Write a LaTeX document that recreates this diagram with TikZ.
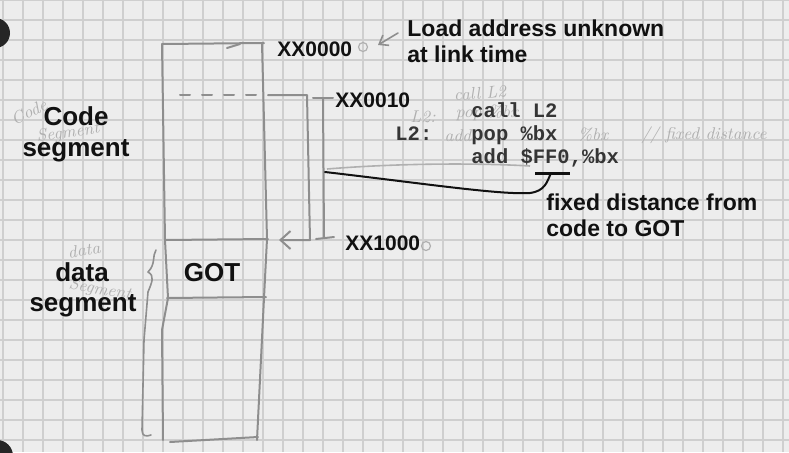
\documentclass[tikz,border=0pt]{standalone}
\usepackage{fontspec}
\newfontfamily\labelfont{Liberation Sans}
\newfontfamily\codefont{Liberation Mono}
\usetikzlibrary{positioning, calc, arrows.meta}
\definecolor{Paper}{HTML}{EDEDED}
\definecolor{GridLine}{HTML}{CFCFCF}
\definecolor{Pencil}{HTML}{8E8E8E}
\definecolor{Faint}{HTML}{B0B0B0}
\definecolor{Ink}{HTML}{111111}
\tikzset{
    plainlbl/.style={font=\labelfont\bfseries\fontsize{11.5}{13}\selectfont, text=Ink, inner sep=0pt, anchor=base west},
    seglbl/.style={font=\labelfont\bfseries\fontsize{13}{15}\selectfont, text=Ink, inner sep=0pt, anchor=base},
    addrlbl/.style={font=\labelfont\bfseries\fontsize{10.5}{12}\selectfont, text=Ink, inner sep=0pt, anchor=base west},
    asmline/.style={font=\codefont\bfseries\fontsize{10.25}{12}\selectfont, text=Ink!85, inner sep=0pt, anchor=base west},
    handtxt/.style={font=\itshape\fontsize{8.5}{10}\selectfont, text=Faint, inner sep=0pt},
    penline/.style={draw=Pencil, line width=1pt, line cap=round, line join=round},
    inkline/.style={draw=Ink, line width=1pt, line cap=round},
    pendot/.style={circle, draw=Faint, line width=0.6pt, inner sep=0pt, minimum size=4.5pt},
}

\begin{document}
\begin{tikzpicture}[x=0.5pt, y=-0.5pt]
    \useasboundingbox (0,0) rectangle (789,452);

    % Foglio a quadretti
    \fill[Paper] (0,0) rectangle (789,452);
    \foreach \gx in {3,23,...,783}
        \draw[GridLine, line width=0.6pt] (\gx,0) -- (\gx,452);
    \foreach \gy in {0,20,...,440}
        \draw[GridLine, line width=0.6pt] (0,\gy) -- (789,\gy);
    \fill[black!85] (-5,33) circle (7.5pt);
    \fill[black!85] (-3,456) circle (8pt);

    % Appunti a matita
    \node[handtxt, rotate=25] (hcode) at (29,112) {Code};
    \node[handtxt, rotate=8] (hseg) at (68,133) {Segment};
    \node[handtxt, rotate=8] (hdata) at (84,250) {data};
    \node[handtxt, rotate=-10] (hseg2) at (100,290) {Segment};
    \node[handtxt, rotate=5] (hcall) at (480,93) {call L2};
    \node[handtxt] (hlbl) at (423,117) {L2:};
    \node[handtxt] (hpop) at (487,113) {pop \%bx};
    \node[handtxt] (hadd) at (458,136) {add};
    \node[handtxt] (hreg) at (593,135) {\%bx};
    \node[handtxt] (hnote) at (704,135) {// fixed distance};
    \draw[draw=Faint, line width=0.8pt] (327,169) .. controls (400,163) and (480,163) .. (530,166);

    % Colonna di memoria
    \draw[penline] (162,44) -- (264,43);
    \draw[penline] (227,48) -- (240,44);
    \draw[penline] (162,44) -- (165,240) -- (168,298) -- (162,330) -- (163,440);
    \draw[penline] (262,43) -- (267,239) -- (264,298) -- (257,440);
    \draw[penline] (170,442) -- (258,437);
    \draw[penline] (165,240) -- (268,239);
    \draw[penline] (167,298) -- (266,297);
    \draw[penline, dash pattern=on 5pt off 6pt] (180,95) -- (262,95);

    % Graffa segmento dati
    \draw[penline, line width=0.8pt] (156,250) .. controls (152,256) and (156,264) .. (148,272)
        .. controls (155,276) and (152,282) .. (148,292) -- (144,340) -- (142,430)
        .. controls (142,436) and (146,437) .. (151,435);

    % Codice: da XX0010 a XX1000
    \coordinate (dshend) at (268,95);
    \coordinate (cornA) at (307,95);
    \coordinate (cornB) at (310,240);
    \coordinate (gotin) at (279,240);
    \draw[penline, -{Straight Barb[length=5pt, width=9pt]}] (dshend) -- (cornA) -- (cornB) -- (gotin);

    \coordinate (tickT) at (323,98);
    \coordinate (tickB) at (324,238);
    \draw[penline] (313,98) -- (333,98);
    \draw[penline] (316,239) -- (334,237);
    \draw[penline] (tickT) -- (tickB);

    % Indirizzi
    \node[addrlbl] (xx0000) at (277,56) {XX0000};
    \node[addrlbl] (xx0010) at (335,107) {XX0010};
    \node[addrlbl] (xx1000) at (345,250) {XX1000};
    \node[pendot] (circA) at (363,47) {};
    \node[pendot] (circB) at (426,246) {};
    \coordinate (loadfrom) at (398,33);
    \coordinate (loadto) at (378,45);
    \draw[penline, line width=0.8pt, -{Straight Barb[length=4pt, width=6pt]}] (loadfrom) -- (loadto);

    \node[plainlbl] (load) at (407,36) {Load address unknown};
    \node[plainlbl] (linktime) at (407,62) {at link time};

    % Segmenti
    \node[seglbl] (codeA) at (76,125) {Code};
    \node[seglbl] (codeB) at (76,156) {segment};
    \node[seglbl] (dataA) at (82,281) {data};
    \node[seglbl] (dataB) at (83,311) {segment};
    \node[seglbl] (got) at (212,281) {GOT};

    % Istruzioni
    \node[asmline] (call) at (471,117) {call L2};
    \node[asmline] (lbl) at (395,140) {L2:};
    \node[asmline] (pop) at (471,140) {pop \%bx};
    \node[asmline] (add) at (471,163) {add \$FF0,\%bx};

    % Distanza fissa
    \coordinate (tap) at (325,172);
    \coordinate (ulL) at (535,173);
    \coordinate (ulR) at (570,173);
    \coordinate (ulmid) at (551,173);
    \draw[Ink, line width=1.5pt] (ulL) -- (ulR);
    \draw[inkline] (tap) .. controls (420,183) and (500,195) .. (530,193)
        .. controls (545,191) and (547,182) .. (ulmid);
    \node[plainlbl] (fixA) at (546,210) {fixed distance from};
    \node[plainlbl] (fixB) at (546,236) {code to GOT};
\end{tikzpicture}
\end{document}
